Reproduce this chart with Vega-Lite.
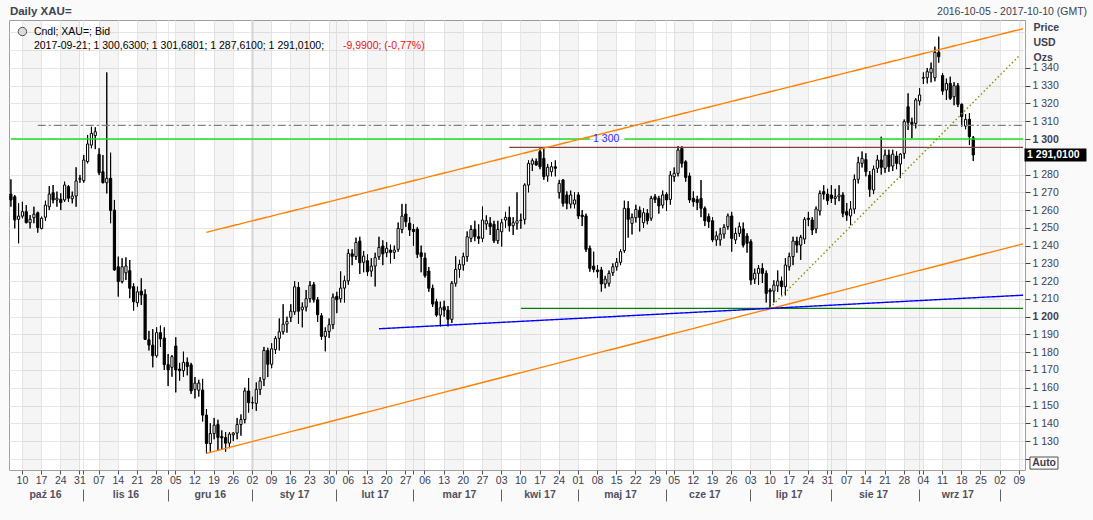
{
  "$schema": "https://vega.github.io/schema/vega-lite/v6.json",
  "description": "Daily XAU= candlestick chart with channel and support lines",
  "width": 1016,
  "height": 450,
  "autosize": "none",
  "padding": {"left": 9, "top": 20, "right": 68, "bottom": 50},
  "background": "#fafafa",
  "datasets": {
    "px": [
      {"d":"2016-10-05","o":1268.9,"h":1277.3,"l":1261.9,"c":1265.7},
      {"d":"2016-10-06","o":1267.5,"h":1268.5,"l":1249.7,"c":1254.4},
      {"d":"2016-10-07","o":1254.8,"h":1263.8,"l":1241.3,"c":1256.6},
      {"d":"2016-10-10","o":1256.6,"h":1264.7,"l":1255.4,"c":1259.1},
      {"d":"2016-10-11","o":1259.1,"h":1262.8,"l":1252.6,"c":1252.9},
      {"d":"2016-10-12","o":1252.9,"h":1257.2,"l":1249.7,"c":1254.8},
      {"d":"2016-10-13","o":1255.7,"h":1261.9,"l":1252.6,"c":1257.7},
      {"d":"2016-10-14","o":1258.5,"h":1259.1,"l":1247.3,"c":1250.1},
      {"d":"2016-10-17","o":1249.7,"h":1256.3,"l":1249.2,"c":1255.4},
      {"d":"2016-10-18","o":1256,"h":1265.3,"l":1254,"c":1262.8},
      {"d":"2016-10-19","o":1261.9,"h":1273.5,"l":1260,"c":1269},
      {"d":"2016-10-20","o":1269.8,"h":1274.1,"l":1263.8,"c":1265.7},
      {"d":"2016-10-21","o":1265.7,"h":1270.4,"l":1261.9,"c":1266.7},
      {"d":"2016-10-24","o":1266.1,"h":1269.4,"l":1260,"c":1264.2},
      {"d":"2016-10-25","o":1265.7,"h":1276,"l":1264.7,"c":1274.1},
      {"d":"2016-10-26","o":1273.2,"h":1274.1,"l":1264.7,"c":1266.7},
      {"d":"2016-10-27","o":1266.4,"h":1270.4,"l":1263.8,"c":1267.9},
      {"d":"2016-10-28","o":1267.9,"h":1284.1,"l":1261.9,"c":1276.4},
      {"d":"2016-10-31","o":1277.3,"h":1279.7,"l":1275.4,"c":1277.9},
      {"d":"2016-11-01","o":1276.6,"h":1291,"l":1275.4,"c":1288.2},
      {"d":"2016-11-02","o":1287.3,"h":1302.3,"l":1286.3,"c":1297.2},
      {"d":"2016-11-03","o":1296.6,"h":1306.9,"l":1294.8,"c":1303.2},
      {"d":"2016-11-04","o":1301.9,"h":1306.6,"l":1294.3,"c":1304.1},
      {"d":"2016-11-07","o":1291.4,"h":1294.8,"l":1279.7,"c":1281},
      {"d":"2016-11-08","o":1281.6,"h":1291,"l":1275.1,"c":1275.4},
      {"d":"2016-11-09","o":1275.4,"h":1337.5,"l":1269.4,"c":1277.9},
      {"d":"2016-11-10","o":1277.9,"h":1292.3,"l":1252.6,"c":1259.7},
      {"d":"2016-11-11","o":1260,"h":1265.7,"l":1225.9,"c":1226.3},
      {"d":"2016-11-14","o":1228.1,"h":1233.8,"l":1211.3,"c":1219.7},
      {"d":"2016-11-15","o":1219.7,"h":1232.9,"l":1218.8,"c":1228.1},
      {"d":"2016-11-16","o":1224.7,"h":1233.4,"l":1220.6,"c":1228.5},
      {"d":"2016-11-17","o":1225.9,"h":1231.9,"l":1210.4,"c":1216},
      {"d":"2016-11-18","o":1216.9,"h":1218.8,"l":1203.4,"c":1208.4},
      {"d":"2016-11-21","o":1207.9,"h":1216.9,"l":1205.6,"c":1214},
      {"d":"2016-11-22","o":1214.4,"h":1221.6,"l":1206.6,"c":1212.2},
      {"d":"2016-11-23","o":1212.6,"h":1215.4,"l":1186.9,"c":1187.2},
      {"d":"2016-11-24","o":1187,"h":1192,"l":1181,"c":1184},
      {"d":"2016-11-25","o":1184,"h":1193,"l":1171.5,"c":1178},
      {"d":"2016-11-28","o":1178,"h":1194,"l":1177,"c":1191},
      {"d":"2016-11-29","o":1191,"h":1195,"l":1183,"c":1187.5},
      {"d":"2016-11-30","o":1188,"h":1194,"l":1170,"c":1173},
      {"d":"2016-12-01","o":1173,"h":1179,"l":1161,"c":1170},
      {"d":"2016-12-02","o":1171.5,"h":1178.4,"l":1166.2,"c":1177.5},
      {"d":"2016-12-05","o":1183.5,"h":1188.4,"l":1157.4,"c":1170},
      {"d":"2016-12-06","o":1170.5,"h":1174,"l":1164,"c":1169.6},
      {"d":"2016-12-07","o":1169.6,"h":1180.3,"l":1166.2,"c":1174.3},
      {"d":"2016-12-08","o":1174.3,"h":1177,"l":1167,"c":1172},
      {"d":"2016-12-09","o":1172.9,"h":1174,"l":1156.5,"c":1158.2},
      {"d":"2016-12-12","o":1159.1,"h":1166,"l":1154,"c":1162.6},
      {"d":"2016-12-13","o":1158.6,"h":1164.5,"l":1155,"c":1162.6},
      {"d":"2016-12-14","o":1158.7,"h":1165,"l":1141,"c":1144.6},
      {"d":"2016-12-15","o":1144.6,"h":1148,"l":1123.1,"c":1128.6},
      {"d":"2016-12-16","o":1128.6,"h":1140,"l":1124,"c":1134.2},
      {"d":"2016-12-19","o":1134.2,"h":1143,"l":1131,"c":1138.9},
      {"d":"2016-12-20","o":1139.3,"h":1142,"l":1124.5,"c":1132},
      {"d":"2016-12-21","o":1132.5,"h":1136,"l":1125,"c":1131.8},
      {"d":"2016-12-22","o":1132,"h":1135,"l":1124,"c":1128.8},
      {"d":"2016-12-23","o":1128.8,"h":1135,"l":1126,"c":1133.9},
      {"d":"2016-12-26","o":1133.5,"h":1135,"l":1130,"c":1134.5},
      {"d":"2016-12-27","o":1134.5,"h":1143,"l":1131,"c":1139.3},
      {"d":"2016-12-28","o":1139.3,"h":1145,"l":1133,"c":1142.1},
      {"d":"2016-12-29","o":1142.1,"h":1160,"l":1140,"c":1158.2},
      {"d":"2016-12-30","o":1158.2,"h":1165.5,"l":1146,"c":1151.6},
      {"d":"2017-01-02","o":1151.5,"h":1155,"l":1148,"c":1151.6},
      {"d":"2017-01-03","o":1151.2,"h":1163,"l":1147,"c":1159.1},
      {"d":"2017-01-04","o":1159.1,"h":1166,"l":1156,"c":1163.8},
      {"d":"2017-01-05","o":1164.7,"h":1183,"l":1161,"c":1181},
      {"d":"2017-01-06","o":1181,"h":1182.5,"l":1166,"c":1173.2},
      {"d":"2017-01-09","o":1173.2,"h":1185,"l":1171,"c":1181.9},
      {"d":"2017-01-10","o":1181.5,"h":1189,"l":1179,"c":1187.8},
      {"d":"2017-01-11","o":1187.8,"h":1199,"l":1181,"c":1191.5},
      {"d":"2017-01-12","o":1191.5,"h":1207,"l":1190,"c":1195.8},
      {"d":"2017-01-13","o":1195.8,"h":1200,"l":1191,"c":1197.3},
      {"d":"2017-01-16","o":1199.6,"h":1207,"l":1197,"c":1203.1},
      {"d":"2017-01-17","o":1202.7,"h":1220,"l":1201,"c":1216.8},
      {"d":"2017-01-18","o":1216.5,"h":1219.5,"l":1196,"c":1203.1},
      {"d":"2017-01-19","o":1203.9,"h":1208,"l":1194,"c":1205.4},
      {"d":"2017-01-20","o":1205.4,"h":1215,"l":1203,"c":1210.1},
      {"d":"2017-01-23","o":1210.1,"h":1220,"l":1208,"c":1217.6},
      {"d":"2017-01-24","o":1218,"h":1219.5,"l":1208,"c":1209.5},
      {"d":"2017-01-25","o":1209.5,"h":1211,"l":1197,"c":1201.1},
      {"d":"2017-01-26","o":1200.5,"h":1202,"l":1187,"c":1188.9},
      {"d":"2017-01-27","o":1188.9,"h":1194,"l":1180.5,"c":1191.7},
      {"d":"2017-01-30","o":1191.7,"h":1199,"l":1188,"c":1195.5},
      {"d":"2017-01-31","o":1195.5,"h":1213,"l":1193,"c":1211},
      {"d":"2017-02-01","o":1211.4,"h":1214,"l":1202,"c":1209.5},
      {"d":"2017-02-02","o":1210.1,"h":1225.5,"l":1208,"c":1216.1},
      {"d":"2017-02-03","o":1216.1,"h":1223,"l":1208,"c":1220.2},
      {"d":"2017-02-06","o":1220.2,"h":1238,"l":1218,"c":1235.6},
      {"d":"2017-02-07","o":1235.4,"h":1238,"l":1229,"c":1233.9},
      {"d":"2017-02-08","o":1233.9,"h":1244.5,"l":1232,"c":1241.8},
      {"d":"2017-02-09","o":1242.6,"h":1245,"l":1224,"c":1230.4},
      {"d":"2017-02-10","o":1230.6,"h":1237,"l":1225,"c":1234.1},
      {"d":"2017-02-13","o":1231.5,"h":1235,"l":1223,"c":1225.3},
      {"d":"2017-02-14","o":1225.7,"h":1233,"l":1222.5,"c":1228.5},
      {"d":"2017-02-15","o":1228.5,"h":1236,"l":1217,"c":1233.2},
      {"d":"2017-02-16","o":1233.8,"h":1245,"l":1232,"c":1239},
      {"d":"2017-02-17","o":1239.8,"h":1243,"l":1229,"c":1235.3},
      {"d":"2017-02-20","o":1236,"h":1242,"l":1233.5,"c":1238.5},
      {"d":"2017-02-21","o":1237.5,"h":1240.5,"l":1230,"c":1236.2},
      {"d":"2017-02-22","o":1236.2,"h":1240,"l":1232.5,"c":1237.5},
      {"d":"2017-02-23","o":1237.9,"h":1253,"l":1236.5,"c":1249.7},
      {"d":"2017-02-24","o":1249.1,"h":1263.5,"l":1247,"c":1256.6},
      {"d":"2017-02-27","o":1257.8,"h":1263.5,"l":1250.5,"c":1253.4},
      {"d":"2017-02-28","o":1252.6,"h":1256,"l":1245.5,"c":1248.8},
      {"d":"2017-03-01","o":1249.1,"h":1252,"l":1240,"c":1247.9},
      {"d":"2017-03-02","o":1249.3,"h":1250.5,"l":1233,"c":1235.1},
      {"d":"2017-03-03","o":1236,"h":1240,"l":1225,"c":1233.8},
      {"d":"2017-03-06","o":1233,"h":1236,"l":1222,"c":1223.1},
      {"d":"2017-03-07","o":1225.7,"h":1228,"l":1214,"c":1216},
      {"d":"2017-03-08","o":1216,"h":1218,"l":1205.5,"c":1207.1},
      {"d":"2017-03-09","o":1208.4,"h":1210,"l":1200,"c":1200.9},
      {"d":"2017-03-10","o":1200.9,"h":1208.5,"l":1194.5,"c":1205},
      {"d":"2017-03-13","o":1205.6,"h":1209,"l":1200,"c":1203.7},
      {"d":"2017-03-14","o":1203.7,"h":1206,"l":1194.5,"c":1198.5},
      {"d":"2017-03-15","o":1198.5,"h":1220,"l":1196.5,"c":1218.8},
      {"d":"2017-03-16","o":1218.8,"h":1234,"l":1217,"c":1226.6},
      {"d":"2017-03-17","o":1226.6,"h":1232,"l":1222,"c":1229.4},
      {"d":"2017-03-20","o":1229.1,"h":1236,"l":1226,"c":1233.8},
      {"d":"2017-03-21","o":1233.8,"h":1248,"l":1231,"c":1245},
      {"d":"2017-03-22","o":1244.1,"h":1251.5,"l":1242,"c":1249.1},
      {"d":"2017-03-23","o":1249.1,"h":1254,"l":1242.5,"c":1245},
      {"d":"2017-03-24","o":1245,"h":1252,"l":1241,"c":1244.1},
      {"d":"2017-03-27","o":1244.1,"h":1262,"l":1242,"c":1254.4},
      {"d":"2017-03-28","o":1252.2,"h":1257,"l":1249,"c":1254},
      {"d":"2017-03-29","o":1252.6,"h":1256,"l":1246,"c":1250.6},
      {"d":"2017-03-30","o":1252,"h":1254,"l":1241.5,"c":1242.8},
      {"d":"2017-03-31","o":1242.8,"h":1254,"l":1241,"c":1249.1},
      {"d":"2017-04-03","o":1247.8,"h":1255,"l":1239.5,"c":1252.9},
      {"d":"2017-04-04","o":1254.4,"h":1259,"l":1250,"c":1255.9},
      {"d":"2017-04-05","o":1255.9,"h":1262,"l":1248,"c":1251.2},
      {"d":"2017-04-06","o":1251.2,"h":1256,"l":1246,"c":1252.9},
      {"d":"2017-04-07","o":1252.6,"h":1270,"l":1249,"c":1254},
      {"d":"2017-04-10","o":1254.4,"h":1258,"l":1249.5,"c":1254.1},
      {"d":"2017-04-11","o":1254.8,"h":1275,"l":1252,"c":1274.1},
      {"d":"2017-04-12","o":1274.1,"h":1288,"l":1270,"c":1286.3},
      {"d":"2017-04-13","o":1285.8,"h":1289,"l":1282,"c":1287.8},
      {"d":"2017-04-14","o":1287.4,"h":1289,"l":1285,"c":1285.4},
      {"d":"2017-04-17","o":1292.9,"h":1295.4,"l":1283,"c":1284.4},
      {"d":"2017-04-18","o":1289.1,"h":1294.7,"l":1277,"c":1278.8},
      {"d":"2017-04-19","o":1279.2,"h":1286,"l":1276,"c":1284.1},
      {"d":"2017-04-20","o":1281.6,"h":1287,"l":1279,"c":1284.4},
      {"d":"2017-04-21","o":1284.4,"h":1288,"l":1279,"c":1283.5},
      {"d":"2017-04-24","o":1269.8,"h":1277,"l":1266.5,"c":1275},
      {"d":"2017-04-25","o":1276.9,"h":1277.5,"l":1262,"c":1263.8},
      {"d":"2017-04-26","o":1268.5,"h":1270.5,"l":1260.5,"c":1263.8},
      {"d":"2017-04-27","o":1263.4,"h":1271,"l":1261,"c":1268.5},
      {"d":"2017-04-28","o":1263.4,"h":1270,"l":1261,"c":1265.7},
      {"d":"2017-05-01","o":1268.5,"h":1270,"l":1255,"c":1256.7},
      {"d":"2017-05-02","o":1257.2,"h":1260,"l":1251,"c":1256.3},
      {"d":"2017-05-03","o":1256.7,"h":1258,"l":1236.5,"c":1237.9},
      {"d":"2017-05-04","o":1238.5,"h":1240,"l":1225.3,"c":1227.2},
      {"d":"2017-05-05","o":1228.5,"h":1236.6,"l":1225,"c":1226.6},
      {"d":"2017-05-08","o":1226.3,"h":1229,"l":1222,"c":1225.3},
      {"d":"2017-05-09","o":1226.3,"h":1228,"l":1214.1,"c":1218.4},
      {"d":"2017-05-10","o":1218.4,"h":1223,"l":1216,"c":1221.2},
      {"d":"2017-05-11","o":1218.8,"h":1226,"l":1217,"c":1224.4},
      {"d":"2017-05-12","o":1224.8,"h":1230,"l":1223,"c":1228.1},
      {"d":"2017-05-15","o":1228.1,"h":1233,"l":1226,"c":1230.6},
      {"d":"2017-05-16","o":1230.6,"h":1238,"l":1229,"c":1236.6},
      {"d":"2017-05-17","o":1237.2,"h":1265.3,"l":1236,"c":1261},
      {"d":"2017-05-18","o":1261,"h":1265,"l":1244.5,"c":1254.8},
      {"d":"2017-05-19","o":1252.5,"h":1258,"l":1246.3,"c":1255.9},
      {"d":"2017-05-22","o":1255.7,"h":1263,"l":1253,"c":1260.4},
      {"d":"2017-05-23","o":1260,"h":1262,"l":1248,"c":1255.9},
      {"d":"2017-05-24","o":1252.9,"h":1261,"l":1250,"c":1258.5},
      {"d":"2017-05-25","o":1258.2,"h":1260.5,"l":1252,"c":1254},
      {"d":"2017-05-26","o":1255.4,"h":1268,"l":1254,"c":1266.6},
      {"d":"2017-05-29","o":1267.5,"h":1269,"l":1264,"c":1266},
      {"d":"2017-05-30","o":1266.6,"h":1268,"l":1258,"c":1262.3},
      {"d":"2017-05-31","o":1262.8,"h":1271,"l":1261,"c":1268.5},
      {"d":"2017-06-01","o":1268.9,"h":1270,"l":1259.5,"c":1265.7},
      {"d":"2017-06-02","o":1266,"h":1282,"l":1263,"c":1279.7},
      {"d":"2017-06-05","o":1278.8,"h":1284,"l":1276,"c":1280.7},
      {"d":"2017-06-06","o":1280.7,"h":1296,"l":1279,"c":1293.8},
      {"d":"2017-06-07","o":1294.7,"h":1296,"l":1284,"c":1286.3},
      {"d":"2017-06-08","o":1287.2,"h":1288,"l":1276,"c":1278.4},
      {"d":"2017-06-09","o":1279.2,"h":1281,"l":1264,"c":1265.7},
      {"d":"2017-06-12","o":1266.6,"h":1270.5,"l":1262,"c":1264.7},
      {"d":"2017-06-13","o":1266,"h":1268,"l":1260,"c":1264.2},
      {"d":"2017-06-14","o":1266.6,"h":1276.9,"l":1256,"c":1261},
      {"d":"2017-06-15","o":1261,"h":1262,"l":1251,"c":1254},
      {"d":"2017-06-16","o":1256.3,"h":1258,"l":1250,"c":1253.5},
      {"d":"2017-06-19","o":1254,"h":1256,"l":1242,"c":1243.2},
      {"d":"2017-06-20","o":1243.2,"h":1248,"l":1240,"c":1245.5},
      {"d":"2017-06-21","o":1243.2,"h":1250,"l":1240,"c":1246.5},
      {"d":"2017-06-22","o":1246.5,"h":1252,"l":1244,"c":1250.3},
      {"d":"2017-06-23","o":1250.7,"h":1258,"l":1249,"c":1256.7},
      {"d":"2017-06-26","o":1256.7,"h":1259,"l":1236.6,"c":1244.1},
      {"d":"2017-06-27","o":1243.2,"h":1250,"l":1241,"c":1246.9},
      {"d":"2017-06-28","o":1246.9,"h":1253,"l":1245,"c":1250.7},
      {"d":"2017-06-29","o":1249.4,"h":1253,"l":1239,"c":1240.3},
      {"d":"2017-06-30","o":1245.4,"h":1247,"l":1236,"c":1241.3},
      {"d":"2017-07-03","o":1242.2,"h":1243.5,"l":1218,"c":1220.6},
      {"d":"2017-07-04","o":1221.2,"h":1227,"l":1218.5,"c":1224.4},
      {"d":"2017-07-05","o":1224.4,"h":1229,"l":1218,"c":1227.2},
      {"d":"2017-07-06","o":1227.2,"h":1230,"l":1219,"c":1224.4},
      {"d":"2017-07-07","o":1224.4,"h":1226,"l":1208,"c":1213.1},
      {"d":"2017-07-10","o":1215,"h":1216,"l":1204.8,"c":1214},
      {"d":"2017-07-11","o":1214.4,"h":1220.5,"l":1208,"c":1217.8},
      {"d":"2017-07-12","o":1217.4,"h":1226,"l":1214,"c":1220.1},
      {"d":"2017-07-13","o":1220.1,"h":1222.5,"l":1212,"c":1216.9},
      {"d":"2017-07-14","o":1216.9,"h":1233,"l":1212,"c":1229.1},
      {"d":"2017-07-17","o":1228.1,"h":1236,"l":1226,"c":1233.8},
      {"d":"2017-07-18","o":1233.8,"h":1245,"l":1229,"c":1242.6},
      {"d":"2017-07-19","o":1242.6,"h":1245,"l":1236,"c":1240.3},
      {"d":"2017-07-20","o":1240.3,"h":1246,"l":1232,"c":1244.7},
      {"d":"2017-07-21","o":1243.7,"h":1256,"l":1241,"c":1254.8},
      {"d":"2017-07-24","o":1255.4,"h":1259,"l":1251,"c":1254.8},
      {"d":"2017-07-25","o":1254.4,"h":1256,"l":1246,"c":1248.8},
      {"d":"2017-07-26","o":1249.4,"h":1262,"l":1247,"c":1260.6},
      {"d":"2017-07-27","o":1259.5,"h":1271,"l":1257,"c":1269.4},
      {"d":"2017-07-28","o":1270.4,"h":1274,"l":1266,"c":1269},
      {"d":"2017-07-31","o":1269,"h":1272,"l":1263,"c":1265.3},
      {"d":"2017-08-01","o":1268.5,"h":1274,"l":1264,"c":1266.6},
      {"d":"2017-08-02","o":1266.6,"h":1272,"l":1263,"c":1267.5},
      {"d":"2017-08-03","o":1267.5,"h":1274,"l":1265,"c":1268.5},
      {"d":"2017-08-04","o":1268.5,"h":1270,"l":1256,"c":1258.2},
      {"d":"2017-08-07","o":1259.1,"h":1264,"l":1254,"c":1257.2},
      {"d":"2017-08-08","o":1256.7,"h":1265,"l":1251.5,"c":1260.6},
      {"d":"2017-08-09","o":1260.6,"h":1280,"l":1258,"c":1277.3},
      {"d":"2017-08-10","o":1277.3,"h":1290,"l":1275,"c":1286.7},
      {"d":"2017-08-11","o":1286.3,"h":1293,"l":1284,"c":1289.1},
      {"d":"2017-08-14","o":1288.5,"h":1292,"l":1279,"c":1281.6},
      {"d":"2017-08-15","o":1279.7,"h":1282,"l":1267.5,"c":1271.7},
      {"d":"2017-08-16","o":1271.3,"h":1285,"l":1269,"c":1283},
      {"d":"2017-08-17","o":1283.5,"h":1291,"l":1281,"c":1288.2},
      {"d":"2017-08-18","o":1288.2,"h":1301.3,"l":1280,"c":1284.1},
      {"d":"2017-08-21","o":1283.5,"h":1294,"l":1281,"c":1291},
      {"d":"2017-08-22","o":1291,"h":1294,"l":1281.5,"c":1284.4},
      {"d":"2017-08-23","o":1284.8,"h":1294,"l":1282,"c":1291.5},
      {"d":"2017-08-24","o":1290.4,"h":1293,"l":1283,"c":1286.3},
      {"d":"2017-08-25","o":1285.9,"h":1292,"l":1278,"c":1291.5},
      {"d":"2017-08-28","o":1291.9,"h":1311,"l":1289,"c":1309.8},
      {"d":"2017-08-29","o":1318.2,"h":1325.7,"l":1305.1,"c":1309.4},
      {"d":"2017-08-30","o":1309.4,"h":1312,"l":1300.4,"c":1308.3},
      {"d":"2017-08-31","o":1308.8,"h":1323,"l":1306,"c":1322},
      {"d":"2017-09-01","o":1321.4,"h":1328.6,"l":1319,"c":1324.8},
      {"d":"2017-09-04","o":1334.3,"h":1337.5,"l":1331,"c":1334.5},
      {"d":"2017-09-05","o":1334.5,"h":1340,"l":1331.3,"c":1337.9},
      {"d":"2017-09-06","o":1337.3,"h":1343,"l":1331.9,"c":1339.8},
      {"d":"2017-09-07","o":1334.5,"h":1352,"l":1332.5,"c":1348.8},
      {"d":"2017-09-08","o":1348.8,"h":1357.6,"l":1343,"c":1346.3},
      {"d":"2017-09-11","o":1335.7,"h":1337,"l":1325,"c":1327},
      {"d":"2017-09-12","o":1327.6,"h":1334,"l":1322,"c":1331.3},
      {"d":"2017-09-13","o":1331.3,"h":1335.1,"l":1322,"c":1322.9},
      {"d":"2017-09-14","o":1323.8,"h":1332,"l":1319,"c":1330},
      {"d":"2017-09-15","o":1330,"h":1331.5,"l":1318,"c":1319.5},
      {"d":"2017-09-18","o":1319.5,"h":1320,"l":1307,"c":1312.6},
      {"d":"2017-09-19","o":1307.3,"h":1314,"l":1305.5,"c":1311.1},
      {"d":"2017-09-20","o":1311.1,"h":1314.5,"l":1296.6,"c":1301.3},
      {"d":"2017-09-21","o":1300.63,"h":1301.68,"l":1287.61,"c":1291.01}
    ],
    "weeks": [
      {"from":"2016-10-10","to":"2016-10-17"},{"from":"2016-10-24","to":"2016-10-31"},
      {"from":"2016-11-07","to":"2016-11-14"},{"from":"2016-11-21","to":"2016-11-28"},
      {"from":"2016-12-05","to":"2016-12-12"},{"from":"2016-12-19","to":"2016-12-26"},
      {"from":"2017-01-02","to":"2017-01-09"},{"from":"2017-01-16","to":"2017-01-23"},
      {"from":"2017-01-30","to":"2017-02-06"},{"from":"2017-02-13","to":"2017-02-20"},
      {"from":"2017-02-27","to":"2017-03-06"},{"from":"2017-03-13","to":"2017-03-20"},
      {"from":"2017-03-27","to":"2017-04-03"},{"from":"2017-04-10","to":"2017-04-17"},
      {"from":"2017-04-24","to":"2017-05-01"},{"from":"2017-05-08","to":"2017-05-15"},
      {"from":"2017-05-22","to":"2017-05-29"},{"from":"2017-06-05","to":"2017-06-12"},
      {"from":"2017-06-19","to":"2017-06-26"},{"from":"2017-07-03","to":"2017-07-10"},
      {"from":"2017-07-17","to":"2017-07-24"},{"from":"2017-07-31","to":"2017-08-07"},
      {"from":"2017-08-14","to":"2017-08-21"},{"from":"2017-08-28","to":"2017-09-04"},
      {"from":"2017-09-11","to":"2017-09-18"},{"from":"2017-09-25","to":"2017-10-02"},
      {"from":"2017-10-09","to":"2017-10-10"}
    ],
    "lines": [
      {"a":"2016-10-05","b":"2017-05-04","pa":1300,"pb":1300,"s":"lvl"},
      {"a":"2017-05-17","b":"2017-10-10","pa":1300,"pb":1300,"s":"lvl"},
      {"a":"2016-10-14","b":"2017-10-10","pa":1307.7,"pb":1307.7,"s":"dash"},
      {"a":"2017-04-05","b":"2017-10-10","pa":1295.3,"pb":1295.3,"s":"top"},
      {"a":"2017-04-10","b":"2017-10-10","pa":1204.7,"pb":1204.7,"s":"base"},
      {"a":"2016-12-15","b":"2017-10-10","pa":1247.5,"pb":1362.1,"s":"chan"},
      {"a":"2016-12-15","b":"2017-10-10","pa":1123.1,"pb":1241.0,"s":"chan"},
      {"a":"2017-02-16","b":"2017-10-10","pa":1193.2,"pb":1212.1,"s":"sup"},
      {"a":"2017-07-10","b":"2017-10-09","pa":1205.0,"pb":1346.9,"s":"trend"}
    ]
  },
  "resolve": {"axis": {"x": "independent"}},
  "layer": [
    {
      "data": {"name": "px"},
      "mark": {"type": "rule", "color": "black", "strokeWidth": 1},
      "encoding": {
        "x": {
          "field": "d", "type": "ordinal",
          "scale": {
            "type": "band", "paddingInner": 0, "paddingOuter": 0,
            "domain": {"unionWith": ["2017-09-22","2017-09-25","2017-09-26","2017-09-27","2017-09-28","2017-09-29","2017-10-02","2017-10-03","2017-10-04","2017-10-05","2017-10-06","2017-10-09","2017-10-10"]}
          },
          "axis": {
            "orient": "bottom",
            "values": ["2016-10-10","2016-10-17","2016-10-24","2016-10-31","2016-11-01","2016-11-07","2016-11-14","2016-11-21","2016-11-28","2016-12-01","2016-12-05","2016-12-12","2016-12-19","2016-12-26","2017-01-02","2017-01-09","2017-01-16","2017-01-23","2017-01-30","2017-02-01","2017-02-06","2017-02-13","2017-02-20","2017-02-27","2017-03-01","2017-03-06","2017-03-13","2017-03-20","2017-03-27","2017-04-03","2017-04-10","2017-04-17","2017-04-24","2017-05-01","2017-05-08","2017-05-15","2017-05-22","2017-05-29","2017-06-01","2017-06-05","2017-06-12","2017-06-19","2017-06-26","2017-07-03","2017-07-10","2017-07-17","2017-07-24","2017-07-31","2017-08-01","2017-08-07","2017-08-14","2017-08-21","2017-08-28","2017-09-01","2017-09-04","2017-09-11","2017-09-18","2017-09-25","2017-10-02","2017-10-09"],
            "labelExpr": "(slice(datum.value, 8) == '01' && datum.value != '2017-05-01') ? '' : slice(datum.value, 8)",
            "labelAngle": 0, "labelOverlap": false, "labelFontSize": 10.5, "labelColor": "#404050",
            "labelPadding": 1, "tickSize": 4, "tickColor": "#505050", "domain": false,
            "grid": true, "gridColor": "#e9e9e9", "title": null
          }
        },
        "y": {
          "field": "l", "type": "quantitative",
          "scale": {"domain": [1113.7, 1367], "nice": false, "zero": false},
          "axis": {
            "orient": "right",
            "values": [1120,1130,1140,1150,1160,1170,1180,1190,1200,1210,1220,1230,1240,1250,1260,1270,1280,1300,1310,1320,1330,1340,1350,1360],
            "tickCount": 100,
            "labelExpr": "(datum.value < 1125 || datum.value > 1345) ? '' : replace(format(datum.value, ','), ',', ' ')",
            "labelOverlap": false, "labelFontSize": 10.5, "labelColor": "#404050", "labelPadding": 2,
            "labelFontWeight": {"condition": {"test": "datum.value % 100 === 0", "value": "bold"}, "value": "normal"},
            "tickSize": 5, "tickColor": "#404040",
            "tickOpacity": {"condition": {"test": "datum.value > 1345", "value": 0}, "value": 1},
            "grid": true, "gridColor": "#e6e6e6", "domain": false,
            "title": ["Price", "USD", "Ozs"], "titleAngle": 0, "titleAlign": "left", "titleBaseline": "top",
            "titleX": 8, "titleY": 2, "titleFontSize": 10.5, "titleFontWeight": "bold", "titleColor": "#404050", "titleLineHeight": 15
          }
        },
        "y2": {"field": "h"}
      }
    },
    {
      "data": {"name": "weeks"},
      "mark": {"type": "rect", "fill": "#000000", "opacity": 0.04},
      "encoding": {
        "x": {
          "field": "from", "type": "ordinal", "bandPosition": 0.5,
          "axis": {
            "orient": "bottom",
            "values": ["2016-10-18","2016-11-16","2016-12-16","2017-01-17","2017-02-15","2017-03-17","2017-04-17","2017-05-16","2017-06-15","2017-07-17","2017-08-16","2017-09-15"],
            "labelExpr": "['sty','lut','mar','kwi','maj','cze','lip','sie','wrz','paź','lis','gru'][toNumber(slice(datum.value, 5, 7)) - 1] + ' ' + slice(datum.value, 2, 4)",
            "labelAngle": 0, "labelOverlap": false, "labelFontSize": 10.5, "labelFontWeight": "bold", "labelColor": "#505060",
            "ticks": false, "tickSize": 0, "labelPadding": 0, "offset": 19, "domain": false, "grid": false, "title": null
          }
        },
        "x2": {"field": "to", "bandPosition": 0.5},
        "y": {"datum": 1367, "type": "quantitative"},
        "y2": {"datum": 1113.7}
      }
    },
    {
      "data": {"values": [{"d": "2017-01-02"}]},
      "mark": {"type": "rule", "color": "#d4d4d4", "strokeWidth": 2},
      "encoding": {
        "x": {
          "field": "d", "type": "ordinal",
          "axis": {
            "orient": "bottom",
            "values": ["2016-11-01","2016-12-01","2017-01-02","2017-02-01","2017-03-01","2017-04-03","2017-05-01","2017-06-01","2017-07-03","2017-08-01","2017-09-01","2017-10-02"],
            "labels": false, "tickSize": 12, "tickColor": "#606060", "offset": 19, "domain": false, "grid": false, "title": null
          }
        }
      }
    },
    {
      "data": {"name": "px"},
      "mark": {"type": "rule", "color": "black", "strokeWidth": 1},
      "encoding": {
        "x": {"field": "d", "type": "ordinal", "axis": null},
        "y": {"field": "l", "type": "quantitative"},
        "y2": {"field": "h"}
      }
    },
    {
      "data": {"name": "px"},
      "mark": {"type": "bar", "width": 2.2, "stroke": "black", "strokeWidth": 1},
      "encoding": {
        "x": {"field": "d", "type": "ordinal", "axis": null},
        "y": {"field": "o", "type": "quantitative"},
        "y2": {"field": "c"},
        "fill": {"condition": {"test": "datum.c >= datum.o", "value": "white"}, "value": "black"}
      }
    },
    {
      "data": {"name": "lines"},
      "mark": {"type": "rule", "strokeWidth": 1.4},
      "encoding": {
        "x": {"field": "a", "type": "ordinal", "axis": null},
        "x2": {"field": "b"},
        "y": {"field": "pa", "type": "quantitative"},
        "y2": {"field": "pb"},
        "color": {
          "field": "s", "type": "nominal", "legend": null,
          "scale": {"domain": ["lvl","dash","top","base","chan","sup","trend"], "range": ["#22dd22","#808080","#804040","#008000","#ff8000","#0000ff","#8b8b00"]}
        },
        "strokeDash": {
          "field": "s", "type": "nominal", "legend": null,
          "scale": {"domain": ["lvl","dash","top","base","chan","sup","trend"], "range": [[1,0],[8,3,2,3],[1,0],[1,0],[1,0],[1,0],[1.5,2.5]]}
        }
      }
    },
    {
      "data": {"values": [{"d": "2017-05-10", "p": 1300, "t": "1 300"}]},
      "mark": {"type": "text", "color": "#2a2aff", "fontSize": 10.5, "align": "center", "baseline": "middle", "dx": 1},
      "encoding": {
        "x": {"field": "d", "type": "ordinal", "axis": null},
        "y": {"field": "p", "type": "quantitative"},
        "text": {"field": "t"}
      }
    },
    {
      "data": {"values": [{"d": "2016-10-10", "p": 1360.5}]},
      "mark": {"type": "point", "shape": "circle", "size": 70, "filled": true, "fill": "#dcdcdc", "stroke": "#505050", "strokeWidth": 1, "opacity": 1},
      "encoding": {
        "x": {"field": "d", "type": "ordinal", "axis": null},
        "y": {"field": "p", "type": "quantitative"}
      }
    },
    {
      "data": {"values": [
        {"d": "2016-10-13", "p": 1360.1, "t": "Cndl; XAU=; Bid"},
        {"d": "2016-10-13", "p": 1352.5, "t": "2017-09-21; 1 300,6300; 1 301,6801; 1 287,6100; 1 291,0100;"}
      ]},
      "mark": {"type": "text", "color": "#000000", "fontSize": 10.5, "align": "left", "baseline": "middle"},
      "encoding": {
        "x": {"field": "d", "type": "ordinal", "axis": null},
        "y": {"field": "p", "type": "quantitative"},
        "text": {"field": "t"}
      }
    },
    {
      "data": {"values": [{"d": "2016-10-13", "p": 1352.5, "t": "-9,9900; (-0,77%)"}]},
      "mark": {"type": "text", "color": "#ee1111", "fontSize": 10.5, "align": "left", "baseline": "middle", "dx": 309},
      "encoding": {
        "x": {"field": "d", "type": "ordinal", "axis": null},
        "y": {"field": "p", "type": "quantitative"},
        "text": {"field": "t"}
      }
    },
    {
      "data": {"values": [{"d": "2016-10-05", "p": 1371.5, "t": "Daily XAU="}]},
      "mark": {"type": "text", "color": "#404050", "fontSize": 11.5, "fontWeight": "bold", "align": "left", "baseline": "middle", "dx": -1},
      "encoding": {
        "x": {"field": "d", "type": "ordinal", "axis": null},
        "y": {"field": "p", "type": "quantitative"},
        "text": {"field": "t"}
      }
    },
    {
      "data": {"values": [{"d": "2017-10-10", "p": 1371.5, "t": "2016-10-05 - 2017-10-10 (GMT)"}]},
      "mark": {"type": "text", "color": "#404050", "fontSize": 10.5, "align": "right", "baseline": "middle", "dx": 64},
      "encoding": {
        "x": {"field": "d", "type": "ordinal", "axis": null},
        "y": {"field": "p", "type": "quantitative"},
        "text": {"field": "t"}
      }
    },
    {
      "data": {"values": [{"d": "2017-10-10", "p": 1291.01}]},
      "mark": {"type": "rule", "color": "black", "strokeWidth": 13, "xOffset": 1.4, "x2Offset": 63.4},
      "encoding": {
        "x": {"field": "d", "type": "ordinal", "axis": null},
        "x2": {"field": "d"},
        "y": {"field": "p", "type": "quantitative"}
      }
    },
    {
      "data": {"values": [{"d": "2017-10-10", "p": 1291.01, "t": "1 291,0100"}]},
      "mark": {"type": "text", "color": "white", "fontSize": 10.5, "fontWeight": "bold", "align": "left", "baseline": "middle", "dx": 4},
      "encoding": {
        "x": {"field": "d", "type": "ordinal", "axis": null},
        "y": {"field": "p", "type": "quantitative"},
        "text": {"field": "t"}
      }
    },
    {
      "data": {"values": [{"d": "2017-10-10", "top": 1121, "bottom": 1114.2}]},
      "mark": {"type": "rect", "fill": "white", "stroke": "#505050", "strokeWidth": 1, "xOffset": 6.9, "x2Offset": 34.9},
      "encoding": {
        "x": {"field": "d", "type": "ordinal", "bandPosition": 0.5, "axis": null},
        "x2": {"field": "d", "bandPosition": 0.5},
        "y": {"field": "top", "type": "quantitative"},
        "y2": {"field": "bottom"}
      }
    },
    {
      "data": {"values": [{"d": "2017-10-10", "p": 1117.5, "t": "Auto"}]},
      "mark": {"type": "text", "color": "#404050", "fontSize": 10.5, "fontWeight": "bold", "align": "center", "baseline": "middle", "dx": 21},
      "encoding": {
        "x": {"field": "d", "type": "ordinal", "axis": null},
        "y": {"field": "p", "type": "quantitative"},
        "text": {"field": "t"}
      }
    }
  ],
  "config": {
    "view": {"stroke": "#a0a0a0", "fill": "white"},
    "font": "Liberation Sans",
    "text": {"font": "Liberation Sans"}
  }
}
